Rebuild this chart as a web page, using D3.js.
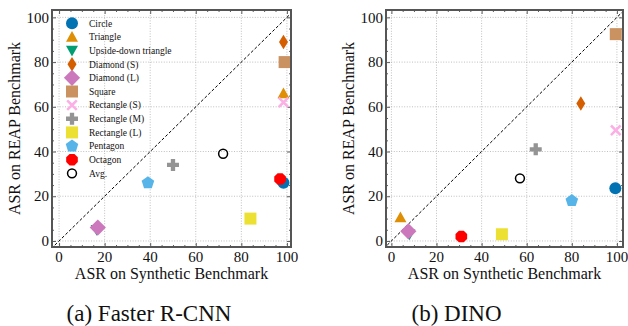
<!DOCTYPE html>
<html>
<head>
<meta charset="utf-8">
<script src="https://cdn.jsdelivr.net/npm/d3@7"></script>
<style>
	body{margin:0;background:#fff;}
	svg{display:block;}
</style>
</head>
<body>
<svg id="chart" width="628" height="326"></svg>
<script>
//categories (legend order)
const categories = ['Circle','Triangle','Upside-down triangle','Diamond (S)','Diamond (L)','Square',
	'Rectangle (S)','Rectangle (M)','Rectangle (L)','Pentagon','Octagon','Avg.'];

//Faster R-CNN: synthetic ASR (x) vs REAP ASR (y)
const rcnnX = [98.5, 98.5, 16.5, 98.5, 17, 99, 98.5, 50, 84, 39, 97, 72];
const rcnnY = [26, 66, 5, 89, 6, 80, 62, 34, 10, 26, 27.7, 39];

//DINO
const dinoX = [99.3, 4, 8, 84, 7.5, 99.5, 99.5, 64, 49, 80, 31, 57];
const dinoY = [23.6, 10.5, 3, 61.5, 4.3, 92.5, 49.5, 41, 3, 18, 2, 28];

const tickValues = [0,20,40,60,80,100];
const captions = ['(a) Faster R-CNN','(b) DINO'];

//styles
const colors = ['#0173b2','#de8f05','#029e73','#d55e00','#cc78bc','#ca9161',
	'#fbafe4','#949494','#ece133','#56b4e9','#ff0000','#000'];
const shapes = ['circle','tri','tridown','thindiamond','diamond','square','xfill','plusfill','square','pentagon','octagon','open'];
const serif = '"Liberation Serif", "Times New Roman", Times, "DejaVu Serif", serif';

function poly(pts){
	return 'M' + pts.map(p => p[0].toFixed(2)+','+p[1].toFixed(2)).join('L') + 'Z';
}
function regular(n, r, rot){
	const pts = [];
	for(let i=0;i<n;i++){
		const a = rot + i*2*Math.PI/n;
		pts.push([r*Math.sin(a), -r*Math.cos(a)]);
	}
	return poly(pts);
}
function markerPath(shape, r){
	switch(shape){
		case 'circle': return d3.symbol(d3.symbolCircle, Math.PI*r*r)();
		case 'open': return d3.symbol(d3.symbolCircle, Math.PI*r*r*0.55)();
		case 'tri': return poly([[0,-r],[r,r*0.8],[-r,r*0.8]]);
		case 'tridown': return poly([[0,r],[r,-r*0.8],[-r,-r*0.8]]);
		case 'thindiamond': return poly([[0,-r*1.2],[r*0.75,0],[0,r*1.2],[-r*0.75,0]]);
		case 'diamond': return poly([[0,-r*1.35],[r*1.35,0],[0,r*1.35],[-r*1.35,0]]);
		case 'square': return poly([[-r,-r],[r,-r],[r,r],[-r,r]]);
		case 'pentagon': return regular(5, r*1.1, 0);
		case 'octagon': return regular(8, r*1.05, Math.PI/8);
		case 'plusfill': {
			const a = r, b = r*0.36;
			return poly([[-b,-a],[b,-a],[b,-b],[a,-b],[a,b],[b,b],[b,a],[-b,a],[-b,b],[-a,b],[-a,-b],[-b,-b]]);
		}
		case 'xfill': {
			const a = r*0.95, t = r*0.3;
			return poly([[0,-t],[a-t,-a],[a,-a+t],[t,0],[a,a-t],[a-t,a],[0,t],[-a+t,a],[-a,a-t],[-t,0],[-a,-a+t],[-a+t,-a]]);
		}
	}
}

const svg = d3.select('#chart').attr('font-family', serif);
const plotTop = 10, plotBottom = 247;
const panels = [
	{x0:52, x1:291, dom:[-3.1, 101.8], xs:rcnnX, ys:rcnnY, caption:captions[0], capX:149, legend:true},
	{x0:386, x1:623, dom:[-2.4, 102.7], xs:dinoX, ys:dinoY, caption:captions[1], capX:456.5, legend:false}
];

panels.forEach((p, pi) => {
	const scaleX = d3.scaleLinear().domain(p.dom).range([p.x0, p.x1]);
	const scaleY = d3.scaleLinear().domain([-2.7, 103.3]).range([plotBottom, plotTop]);
	const g = svg.append('g');

	const clipId = 'clip'+pi;
	g.append('clipPath').attr('id', clipId)
		.append('rect').attr('x',p.x0).attr('y',plotTop).attr('width',p.x1-p.x0).attr('height',plotBottom-plotTop);

	//grid
	g.selectAll('.gx').data(tickValues).join('line')
		.attr('x1', d => scaleX(d)).attr('x2', d => scaleX(d))
		.attr('y1', plotTop).attr('y2', plotBottom)
		.attr('stroke','#b0b0b0').attr('stroke-width',0.8).attr('stroke-dasharray','1,1.6');
	g.selectAll('.gy').data(tickValues).join('line')
		.attr('y1', d => scaleY(d)).attr('y2', d => scaleY(d))
		.attr('x1', p.x0).attr('x2', p.x1)
		.attr('stroke','#b0b0b0').attr('stroke-width',0.8).attr('stroke-dasharray','1,1.6');

	//ticks (inward, all four sides)
	const axB = d3.axisBottom(scaleX).tickValues(tickValues).tickSize(-4).tickFormat('');
	const axT = d3.axisTop(scaleX).tickValues(tickValues).tickSize(-4).tickFormat('');
	const axL = d3.axisLeft(scaleY).tickValues(tickValues).tickSize(-4).tickFormat('');
	const axR = d3.axisRight(scaleY).tickValues(tickValues).tickSize(-4).tickFormat('');
	const minor = d3.range(0, 101, 5).filter(v => v % 20 !== 0);
	const mB = d3.axisBottom(scaleX).tickValues(minor).tickSize(-2).tickFormat('');
	const mT = d3.axisTop(scaleX).tickValues(minor).tickSize(-2).tickFormat('');
	const mL = d3.axisLeft(scaleY).tickValues(minor).tickSize(-2).tickFormat('');
	const mR = d3.axisRight(scaleY).tickValues(minor).tickSize(-2).tickFormat('');
	[[axB,mB,`translate(0,${plotBottom})`],[axT,mT,`translate(0,${plotTop})`],
	 [axL,mL,`translate(${p.x0},0)`],[axR,mR,`translate(${p.x1},0)`]].forEach(a => {
		[a[0],a[1]].forEach(ax => {
			const t = g.append('g').attr('transform', a[2]).call(ax);
			t.select('.domain').remove();
			t.selectAll('line').attr('stroke','#333').attr('stroke-width',0.8);
		});
	});

	//tick labels
	g.selectAll('.xl').data(tickValues).join('text')
		.attr('x', d => scaleX(d)).attr('y', 262)
		.attr('text-anchor','middle').attr('font-size',15).attr('fill','#111')
		.text(d => d);
	g.selectAll('.yl').data(tickValues).join('text')
		.attr('x', p.x0-3).attr('y', d => scaleY(d)).attr('dy','0.35em')
		.attr('text-anchor','end').attr('font-size',15).attr('fill','#111')
		.text(d => d);

	//diagonal
	g.append('line')
		.attr('clip-path',`url(#${clipId})`)
		.attr('x1', scaleX(-5)).attr('y1', scaleY(-5))
		.attr('x2', scaleX(105)).attr('y2', scaleY(105))
		.attr('stroke','#000').attr('stroke-width',1).attr('stroke-dasharray','3,2');

	//points
	const pts = categories.map((c,i) => ({c, i, x:p.xs[i], y:p.ys[i]}));
	g.append('g').attr('clip-path',`url(#${clipId})`)
		.selectAll('path').data(pts).join('path')
		.attr('transform', d => `translate(${scaleX(d.x)},${scaleY(d.y)})`)
		.attr('d', d => markerPath(shapes[d.i], 6))
		.attr('fill', d => shapes[d.i]==='open' ? 'none' : colors[d.i])
		.attr('stroke', d => shapes[d.i]==='open' ? '#000' : 'none')
		.attr('stroke-width', 1.5);

	//frame
	g.append('rect')
		.attr('x',p.x0).attr('y',plotTop).attr('width',p.x1-p.x0).attr('height',plotBottom-plotTop)
		.attr('fill','none').attr('stroke','#555').attr('stroke-width',2);

	//axis labels
	g.append('text')
		.attr('transform', `translate(${p.x0-32},${(plotTop+plotBottom)/2}) rotate(-90)`)
		.attr('text-anchor','middle').attr('font-size',16).attr('fill','#111')
		.text('ASR on REAP Benchmark');
	g.append('text')
		.attr('x', (p.x0+p.x1)/2).attr('y', 279)
		.attr('text-anchor','middle').attr('font-size',16).attr('fill','#111')
		.text('ASR on Synthetic Benchmark');

	//caption
	g.append('text')
		.attr('x', p.capX).attr('y', 321)
		.attr('text-anchor','middle').attr('font-size',23).attr('fill','#111')
		.text(p.caption);

	//legend
	if(p.legend){
		const lg = g.append('g');
		const rows = lg.selectAll('g').data(categories).join('g')
			.attr('transform', (d,i) => `translate(${p.x0+20},${23.3 + i*13.64})`);
		rows.append('path')
			.attr('d', (d,i) => markerPath(shapes[i], 6))
			.attr('fill', (d,i) => shapes[i]==='open' ? 'none' : colors[i])
			.attr('stroke', (d,i) => shapes[i]==='open' ? '#000' : 'none')
			.attr('stroke-width',1.5);
		rows.append('text')
			.attr('x', 17).attr('dy','0.35em')
			.attr('font-size',9.5).attr('fill','#111')
			.text(d => d);
	}
});
</script>
</body>
</html>
